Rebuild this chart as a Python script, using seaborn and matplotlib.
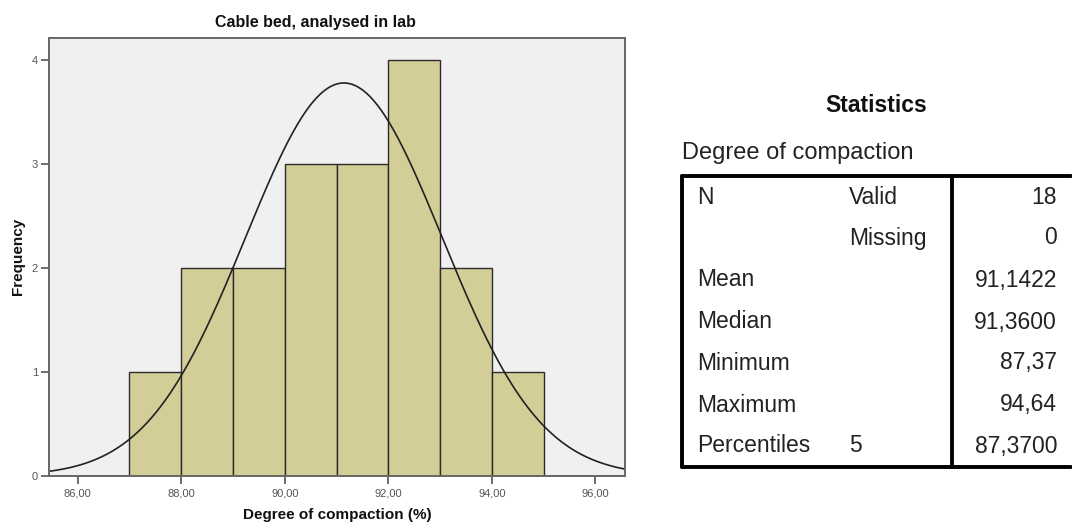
import numpy as np
import pandas as pd
import matplotlib
matplotlib.use("Agg")
import matplotlib.pyplot as plt
import seaborn as sns

# ---- data ----
bin_edges = [87, 88, 89, 90, 91, 92, 93, 94, 95]
bin_counts = [1, 2, 2, 3, 3, 4, 2, 1]
n_valid = 18
mean_val = 91.1422
sd_val = 1.90          # estimated from the normal curve height
x_ticks = [86, 88, 90, 92, 94, 96]
x_tick_labels = ["86,00", "88,00", "90,00", "92,00", "94,00", "96,00"]
y_ticks = [0, 1, 2, 3, 4]

stat_labels = ["N", "", "Mean", "Median", "Minimum", "Maximum", "Percentiles"]
stat_sublabels = ["Valid", "Missing", "", "", "", "", "5"]
stat_values = ["18", "0", "91,1422", "91,3600", "87,37", "94,64", "87,3700"]

sns.set_theme(style="white")
plt.rcParams["font.family"] = ["Liberation Sans", "DejaVu Sans"]

W, H = 1072, 525
fig = plt.figure(figsize=(W / 100, H / 100), dpi=100)

def fx(px):
    return px / W

def fy(py):
    return 1 - py / H

ax_l, ax_r = 49, 625
ax = fig.add_axes([fx(ax_l), fy(475.7), fx(ax_r) - fx(ax_l), fy(37.7) - fy(475.7)])
ax.set_facecolor("#F0F0F0")

centers = [(a + b) / 2 for a, b in zip(bin_edges[:-1], bin_edges[1:])]
df = pd.DataFrame({"x": centers, "w": bin_counts})
sns.histplot(data=df, x="x", weights="w", bins=bin_edges, ax=ax,
             color="#D3CE97", edgecolor="#2b2b2b", linewidth=1.0, alpha=1.0)

xs = np.linspace(85.3, 96.7, 400)
binw = bin_edges[1] - bin_edges[0]
ys = n_valid * binw / (sd_val * np.sqrt(2 * np.pi)) * np.exp(-0.5 * ((xs - mean_val) / sd_val) ** 2)
sns.lineplot(x=xs, y=ys, ax=ax, color="#222222", linewidth=1.2)

ax.set_xlim(85.445, 96.574)
ax.set_ylim(0, 4.215)
ax.set_xticks(x_ticks)
ax.set_xticklabels(x_tick_labels)
ax.set_yticks(y_ticks)
ax.tick_params(axis="both", which="major", length=6, width=1.2, color="#555555",
               labelsize=8, labelcolor="#555555", direction="out", pad=2)
ax.tick_params(axis="x", bottom=True, pad=3)
ax.tick_params(axis="y", left=True)
for s in ax.spines.values():
    s.set_color("#666666")
    s.set_linewidth(1.4)

ax.set_xlabel("Degree of compaction (%)", fontsize=11, fontweight="bold", color="#111111", labelpad=7)
ax.set_ylabel("Frequency", fontsize=11, fontweight="bold", color="#111111", labelpad=5)
ax.set_title("Cable bed, analysed in lab", fontsize=11.5, fontweight="bold", color="#111111",
             pad=8, x=(315 - ax_l) / (ax_r - ax_l))

# ---- statistics table ----
fig.text(fx(876), fy(105), "Statistics", fontsize=16.5, fontweight="bold",
         ha="center", va="center", color="#111111")
fig.text(fx(682), fy(153), "Degree of compaction", fontsize=17,
         ha="left", va="center", color="#222222")

tl, tr, tt, tb, tdiv = 681.5, 1071, 175.5, 466.5, 952
lw = 2.8
fig.add_artist(plt.Line2D([fx(tl), fx(tr)], [fy(tt), fy(tt)], color="black", lw=lw))
fig.add_artist(plt.Line2D([fx(tl), fx(tr)], [fy(tb), fy(tb)], color="black", lw=lw))
fig.add_artist(plt.Line2D([fx(tl), fx(tl)], [fy(tt), fy(tb)], color="black", lw=lw))
fig.add_artist(plt.Line2D([fx(tdiv), fx(tdiv)], [fy(tt), fy(tb)], color="black", lw=lw))

row_y = [197, 238, 280, 322, 363, 405, 446]
for yy, lab, sub, val in zip(row_y, stat_labels, stat_sublabels, stat_values):
    if lab:
        fig.text(fx(697), fy(yy), lab, fontsize=16.5, ha="left", va="center", color="#222222")
    if sub:
        fig.text(fx(849), fy(yy), sub, fontsize=16.5, ha="left", va="center", color="#222222")
    fig.text(fx(1057), fy(yy), val, fontsize=16.5, ha="right", va="center", color="#222222")

fig.savefig("out.png", dpi=100)
